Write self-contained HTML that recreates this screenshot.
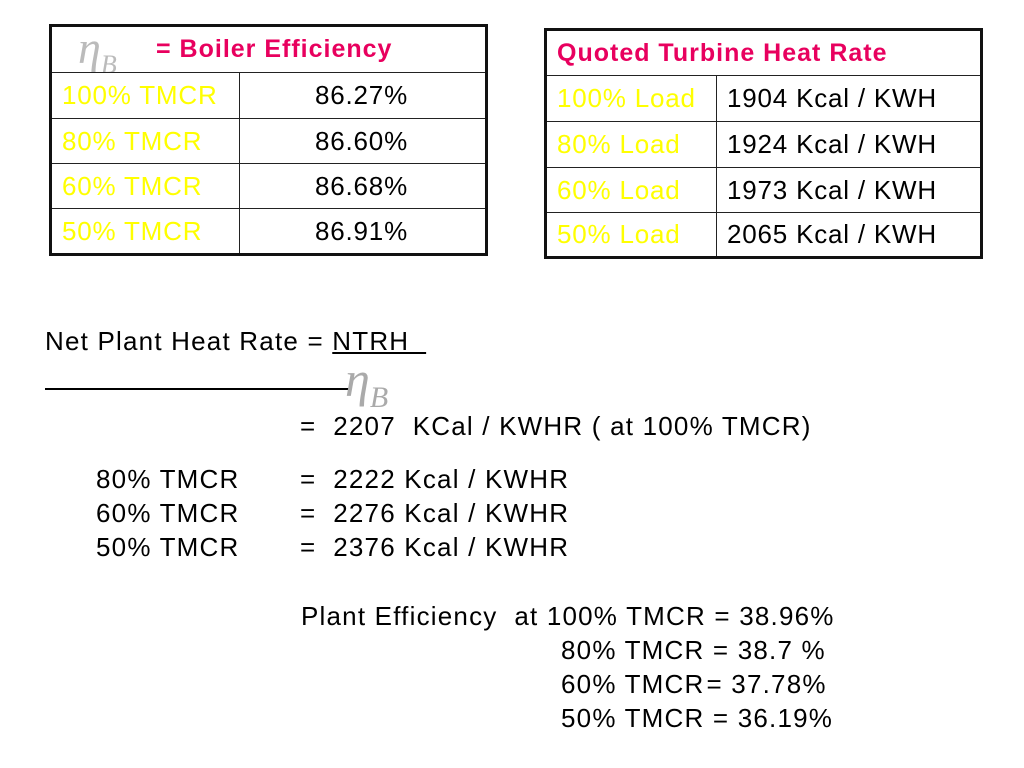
<!DOCTYPE html>
<html><head><meta charset="utf-8"><style>
body{margin:0;width:1024px;height:768px;background:#fff;position:relative;overflow:hidden;font-family:"Liberation Sans",sans-serif}
.a{position:absolute;white-space:nowrap}
table{position:absolute;border-collapse:collapse;border:3px solid #111;table-layout:fixed}
td{border:1px solid #222;padding:0 0 0 10px;font-size:26px;letter-spacing:0.8px;vertical-align:middle;white-space:nowrap;overflow:hidden}
.y{color:#ffff00}.p{color:#e8005e;font-weight:bold;font-size:25px;letter-spacing:1px}
.eta{font-family:"Liberation Serif",serif;font-style:italic;color:#bbb;letter-spacing:0}
.t{font-size:26px;letter-spacing:1.2px;color:#000}
</style></head><body>
<table style="left:49px;top:24px;width:439px;height:232px">
<colgroup><col style="width:189px"><col></colgroup>
<tr style="height:47px"><td colspan="2" class="p" style="position:relative;padding-left:104px"><span class="eta" style="position:absolute;left:26px;top:-6px;font-size:46px;font-weight:normal">η<sub style="font-size:26px">B</sub></span>= Boiler Efficiency</td></tr>
<tr style="height:46px"><td class="y">100% TMCR</td><td style="padding-left:75px">86.27%</td></tr>
<tr style="height:45px"><td class="y">80% TMCR</td><td style="padding-left:75px">86.60%</td></tr>
<tr style="height:45px"><td class="y">60% TMCR</td><td style="padding-left:75px">86.68%</td></tr>
<tr style="height:46px"><td class="y">50% TMCR</td><td style="padding-left:75px">86.91%</td></tr>
</table>
<table style="left:544px;top:28px;width:439px;height:231px">
<colgroup><col style="width:171px"><col></colgroup>
<tr style="height:46px"><td colspan="2" class="p">Quoted Turbine Heat Rate</td></tr>
<tr style="height:46px"><td class="y">100% Load</td><td>1904 Kcal / KWH</td></tr>
<tr style="height:46px"><td class="y">80% Load</td><td>1924 Kcal / KWH</td></tr>
<tr style="height:45px"><td class="y">60% Load</td><td>1973 Kcal / KWH</td></tr>
<tr style="height:45px"><td class="y">50% Load</td><td>2065 Kcal / KWH</td></tr>
</table>
<div class="a t" style="left:45px;top:326px">Net Plant Heat Rate = <u>NTRH&nbsp;&nbsp;</u></div>
<div class="a" style="left:45px;top:388px;width:305px;height:2px;background:#000"></div>
<div class="a eta" style="left:345px;top:350px;font-size:50px;color:#aaa">η<sub style="font-size:30px">B</sub></div>
<div class="a t" style="left:300px;top:411px">=&nbsp; 2207&nbsp; KCal / KWHR ( at 100% TMCR)</div>
<div class="a t" style="left:96px;top:464px">80% TMCR</div><div class="a t" style="left:300px;top:464px">=&nbsp; 2222 Kcal / KWHR</div>
<div class="a t" style="left:96px;top:498px">60% TMCR</div><div class="a t" style="left:300px;top:498px">=&nbsp; 2276 Kcal / KWHR</div>
<div class="a t" style="left:96px;top:532px">50% TMCR</div><div class="a t" style="left:300px;top:532px">=&nbsp; 2376 Kcal / KWHR</div>
<div class="a t" style="left:301px;top:601px">Plant Efficiency&nbsp; at 100% TMCR = 38.96%</div>
<div class="a t" style="left:561px;top:635px">80% TMCR = 38.7 %</div>
<div class="a t" style="left:561px;top:669px">60% TMCR<span style="margin-left:2px">= 37.78%</span></div>
<div class="a t" style="left:561px;top:703px">50% TMCR = 36.19%</div>
</body></html>
